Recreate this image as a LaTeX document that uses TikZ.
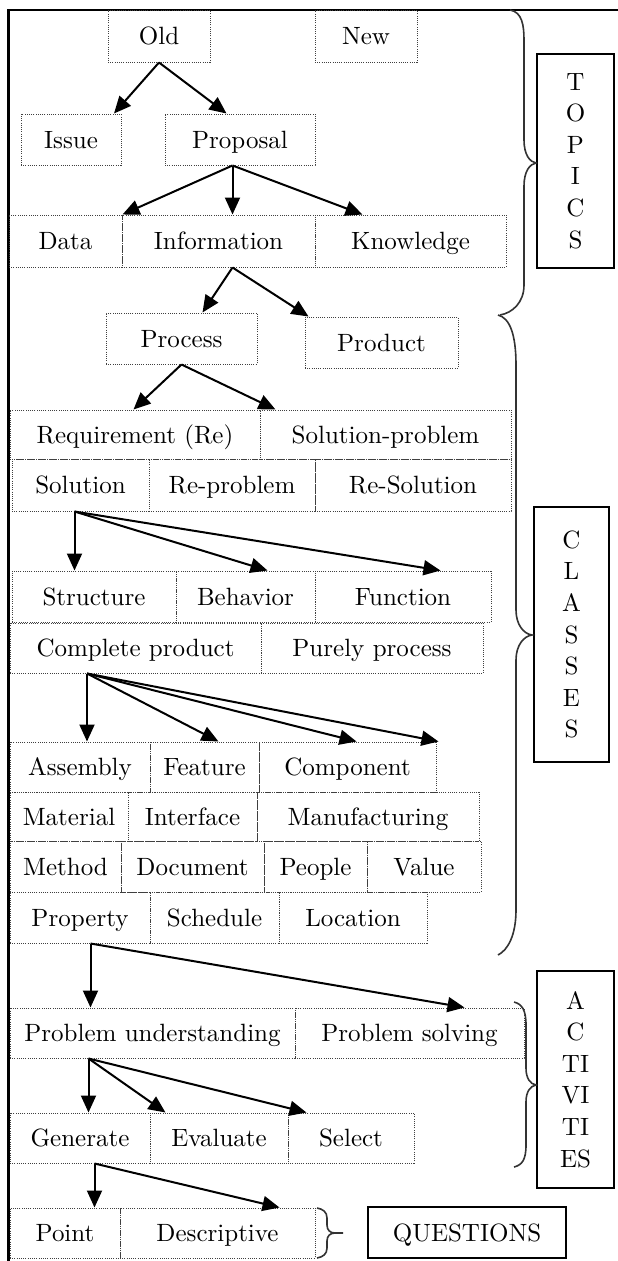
\documentclass[tikz,border=0pt]{standalone}
\usepackage{fontspec}
\setmainfont{lmroman10-regular.otf}
\usetikzlibrary{arrows.meta}
\newcommand\dfont{\fontsize{25}{31.6}\selectfont}
\tikzset{
  bx/.style={draw=black!75, line width=1pt, dash pattern=on 1pt off 1.2pt, inner sep=0pt, font=\dfont, text=black, text height=17pt, text depth=0pt},
  side/.style={draw=black, line width=1.5pt, inner sep=0pt, font=\dfont, align=center},
  arr/.style={draw=black, line width=2pt, -{Triangle[length=17pt,width=15pt]}},
  brc/.style={draw=black!80, line width=1.6pt},
}
\begin{document}
\begin{tikzpicture}[x=1pt,y=-1pt]
\useasboundingbox (0,0) rectangle (618,1261);
% frame
\draw[line width=2.5pt] (618,10) -- (8.7,10) -- (8.7,1261);
% topics
\node[bx, minimum width=102pt, minimum height=52pt] (old) at (159,36) {Old};
\node[bx, minimum width=102pt, minimum height=52pt] (new) at (366,36) {New};
\node[bx, minimum width=100pt, minimum height=51pt] (issue) at (71,139.5) {Issue};
\node[bx, minimum width=150pt, minimum height=51pt] (proposal) at (240,139.5) {Proposal};
\node[bx, minimum width=113pt, minimum height=52pt] (data) at (65.5,241) {Data};
\node[bx, minimum width=193pt, minimum height=52pt] (info) at (218.5,241) {Information};
\node[bx, minimum width=191pt, minimum height=52pt] (know) at (410.5,241) {Knowledge};
% classes
\node[bx, minimum width=151pt, minimum height=51pt] (process) at (181.5,338.5) {Process};
\node[bx, minimum width=153pt, minimum height=51pt] (product) at (381.5,342.5) {Product};
\node[bx, minimum width=250pt, minimum height=49pt] (req) at (135,434.5) {Requirement (Re)};
\node[bx, minimum width=251pt, minimum height=49pt] (solprob) at (385.5,434.5) {Solution-problem};
\node[bx, minimum width=137pt, minimum height=52pt] (sol) at (80.5,485) {Solution};
\node[bx, minimum width=166pt, minimum height=52pt] (reprob) at (232,485) {Re-problem};
\node[bx, minimum width=196pt, minimum height=52pt] (resol) at (413,485) {Re-Solution};
\node[bx, minimum width=164pt, minimum height=51pt] (struct) at (94,596.5) {Structure};
\node[bx, minimum width=139pt, minimum height=51pt] (behav) at (245.5,596.5) {Behavior};
\node[bx, minimum width=176pt, minimum height=51pt] (func) at (403,596.5) {Function};
\node[bx, minimum width=251pt, minimum height=50pt] (complete) at (135.5,648) {Complete product};
\node[bx, minimum width=222pt, minimum height=50pt] (purely) at (372,648) {Purely process};
\node[bx, minimum width=140pt, minimum height=50pt] (assem) at (80,767) {Assembly};
\node[bx, minimum width=109pt, minimum height=50pt] (feat) at (204.5,767) {Feature};
\node[bx, minimum width=177pt, minimum height=50pt] (comp) at (347.5,767) {Component};
\node[bx, minimum width=118pt, minimum height=49pt] (mat) at (69,816.5) {Material};
\node[bx, minimum width=129pt, minimum height=49pt] (inter) at (192.5,816.5) {Interface};
\node[bx, minimum width=222pt, minimum height=49pt] (manuf) at (368,816.5) {Manufacturing};
\node[bx, minimum width=111pt, minimum height=51pt] (meth) at (65.5,866.5) {Method};
\node[bx, minimum width=143pt, minimum height=51pt] (doc) at (192.5,866.5) {Document};
\node[bx, minimum width=103pt, minimum height=51pt] (people) at (315.5,866.5) {People};
\node[bx, minimum width=114pt, minimum height=51pt] (value) at (424,866.5) {Value};
\node[bx, minimum width=140pt, minimum height=51pt] (prop) at (80,917.5) {Property};
\node[bx, minimum width=129pt, minimum height=51pt] (sched) at (214.5,917.5) {Schedule};
\node[bx, minimum width=148pt, minimum height=51pt] (loc) at (353,917.5) {Location};
% activities
\node[bx, minimum width=285pt, minimum height=50pt] (pu) at (152.5,1033) {Problem understanding};
\node[bx, minimum width=229pt, minimum height=50pt] (ps) at (409.5,1033) {Problem solving};
\node[bx, minimum width=140pt, minimum height=50pt] (gen) at (80,1138) {Generate};
\node[bx, minimum width=138pt, minimum height=50pt] (eval) at (219,1138) {Evaluate};
\node[bx, minimum width=126pt, minimum height=50pt] (sel) at (351,1138) {Select};
% questions
\node[bx, minimum width=110pt, minimum height=50pt] (point) at (65,1233) {Point};
\node[bx, minimum width=195pt, minimum height=50pt] (desc) at (217.5,1233) {Descriptive};
% side labels
\node[side, minimum width=77pt, minimum height=214pt] (topics) at (575.5,161) {T\\O\\P\\I\\C\\S};
\node[side, minimum width=75pt, minimum height=255pt] (classes) at (571.5,634.5) {C\\L\\A\\S\\S\\E\\S};
\node[side, minimum width=77pt, minimum height=217pt] (activities) at (575.5,1079.5) {A\\C\\TI\\VI\\TI\\ES};
\node[side, minimum width=198pt, minimum height=51pt, text height=17pt, text depth=0pt] (questions) at (467,1232.5) {QUESTIONS};
% arrows
\draw[arr] (old.south) -- ([xshift=93.5pt]issue.north west);
\draw[arr] (old.south) -- ([xshift=62pt]proposal.north west);
\draw[arr] ([xshift=68pt]proposal.south west) -- (data.north east);
\draw[arr] ([xshift=68pt]proposal.south west) -- ([xshift=111pt]info.north west);
\draw[arr] ([xshift=68pt]proposal.south west) -- ([xshift=48pt]know.north west);
\draw[arr] ([xshift=111pt]info.south west) -- ([xshift=97pt]process.north west);
\draw[arr] ([xshift=111pt]info.south west) -- ([xshift=4pt]product.north west);
\draw[arr] (process.south) -- ([xshift=124pt]req.north west);
\draw[arr] (process.south) -- ([xshift=16pt]solprob.north west);
\draw[arr] ([xshift=63pt]sol.south west) -- ([xshift=63pt]struct.north west);
\draw[arr] ([xshift=63pt]sol.south west) -- ([xshift=92pt]behav.north west);
\draw[arr] ([xshift=63pt]sol.south west) -- ([xshift=126pt]func.north west);
\draw[arr] ([xshift=77.5pt]complete.south west) -- ([xshift=77.5pt]assem.north west);
\draw[arr] ([xshift=77.5pt]complete.south west) -- ([xshift=69pt]feat.north west);
\draw[arr] ([xshift=77.5pt]complete.south west) -- ([xshift=98pt]comp.north west);
\draw[arr] ([xshift=77.5pt]complete.south west) -- ([xshift=2pt]comp.north east);
\draw[arr] ([xshift=81pt]prop.south west) -- ([xshift=81pt]pu.north west);
\draw[arr] ([xshift=81pt]prop.south west) -- ([xshift=170pt]ps.north west);
\draw[arr] ([xshift=79pt]pu.south west) -- ([xshift=79pt]gen.north west);
\draw[arr] ([xshift=79pt]pu.south west) -- ([xshift=16pt]eval.north west);
\draw[arr] ([xshift=79pt]pu.south west) -- ([xshift=19pt]sel.north west);
\draw[arr] ([xshift=85pt]gen.south west) -- ([xshift=85pt]point.north west);
\draw[arr] ([xshift=85pt]gen.south west) -- ([xshift=160pt]desc.north west);
% braces
\draw[brc] (510,10) .. controls (522,12) and (524,25) .. (524,40) -- (524,140)
  .. controls (524,155) and (530,162) .. (536,163)
  .. controls (530,164) and (524,171) .. (524,186) -- (524,285)
  .. controls (524,303) and (512,313) .. (500,315);
\draw[brc] (498,315) .. controls (510,318) and (516,335) .. (516,365) -- (516,610)
  .. controls (516,625) and (524,634) .. (532,635)
  .. controls (524,636) and (516,645) .. (516,660) -- (516,910)
  .. controls (516,935) and (508,950) .. (498,955);
\draw[brc] (514,1002) .. controls (522,1004) and (526,1010) .. (526,1025) -- (526,1068)
  .. controls (526,1078) and (530,1084) .. (536,1085)
  .. controls (530,1086) and (526,1092) .. (526,1102) -- (526,1145)
  .. controls (526,1160) and (522,1165) .. (514,1167);
\draw[brc] (317,1208) .. controls (323,1209) and (327,1212) .. (327,1218) -- (327,1225)
  .. controls (327,1230) and (330,1233) .. (335,1233) -- (343,1233);
\draw[brc] (335,1233) .. controls (330,1233) and (327,1236) .. (327,1241) -- (327,1248)
  .. controls (327,1254) and (323,1257) .. (317,1258);
\end{tikzpicture}
\end{document}
